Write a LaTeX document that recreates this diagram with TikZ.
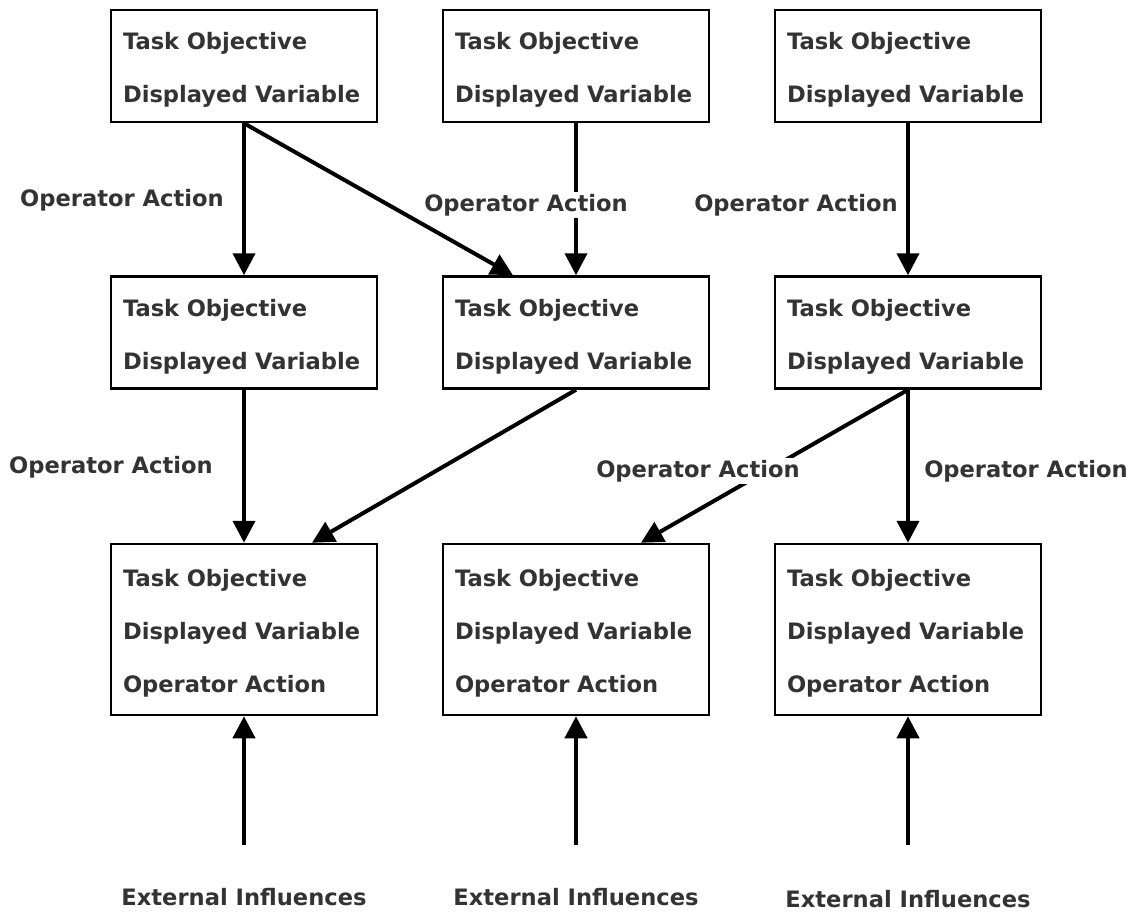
\documentclass[tikz,border=0pt]{standalone}
\usepackage{fontspec}
\setmainfont{DejaVu Sans}
\usetikzlibrary{arrows.meta,calc}
\definecolor{labelgray}{HTML}{333333}
\tikzstyle{every node}=[font=\bfseries\fontsize{22.6pt}{53pt}\selectfont,text=labelgray]
\tikzstyle{task}=[draw=black,line width=2.5pt,fill=white,text width=242pt,align=left,inner xsep=12pt,inner ysep=0pt,minimum height=112pt,text height=25pt]
\tikzstyle{action}=[fill=white,inner sep=2pt,yshift=-2pt]

\begin{document}
\begin{tikzpicture}[x=1pt,y=-1pt,
          flow/.style={line width=4pt,-{Triangle[length=22pt,width=22pt]}}]
          \useasboundingbox (0,0) rectangle (1132,911);
          % task boxes
          \node[task] (T1) at (244,66) {Task Objective\\Displayed Variable};
          \node[task] (T2) at (576,66) {Task Objective\\Displayed Variable};
          \node[task] (T3) at (908,66) {Task Objective\\Displayed Variable};
          \node[task] (T4) at (244,332.5) {Task Objective\\Displayed Variable};
          \node[task] (T5) at (576,332.5) {Task Objective\\Displayed Variable};
          \node[task] (T6) at (908,332.5) {Task Objective\\Displayed Variable};
          \node[task,minimum height=171pt] (T7) at (244,629.5) {Task Objective\\Displayed Variable\\Operator Action};
          \node[task,minimum height=171pt] (T8) at (576,629.5) {Task Objective\\Displayed Variable\\Operator Action};
          \node[task,minimum height=171pt] (T9) at (908,629.5) {Task Objective\\Displayed Variable\\Operator Action};
          % external influences
          \coordinate (E1) at (244,845);
          \coordinate (E2) at (576,845);
          \coordinate (E3) at (908,845);
          \node (X1) at (244,897) {External Influences};
          \node (X2) at (576,897) {External Influences};
          \node (X3) at (908,899) {External Influences};
          % connectors
          \draw[flow] (T1.south) -- (T4.north);
          \draw[flow] (T1.south) -- ($(T5.north)+(-63,0)$);
          \draw[flow] (T2.south) -- (T5.north);
          \draw[flow] (T3.south) -- (T6.north);
          \draw[flow] (T4.south) -- (T7.north);
          \draw[flow] (T5.south) -- ($(T7.north)+(68,0)$);
          \draw[flow] (T6.south) -- ($(T8.north)+(65,0)$);
          \draw[flow] (T6.south) -- (T9.north);
          \draw[flow] (E1) -- (T7.south);
          \draw[flow] (E2) -- (T8.south);
          \draw[flow] (E3) -- (T9.south);
          % action labels
          \node[action] (A1) at (122,198) {Operator Action};
          \node[action] (A2) at (526,203) {Operator Action};
          \node[action] (A3) at (796,203) {Operator Action};
          \node[action] (A4) at (111,465) {Operator Action};
          \node[action] (A5) at (698,469) {Operator Action};
          \node[action] (A6) at (1026,469) {Operator Action};
\end{tikzpicture}
\end{document}
